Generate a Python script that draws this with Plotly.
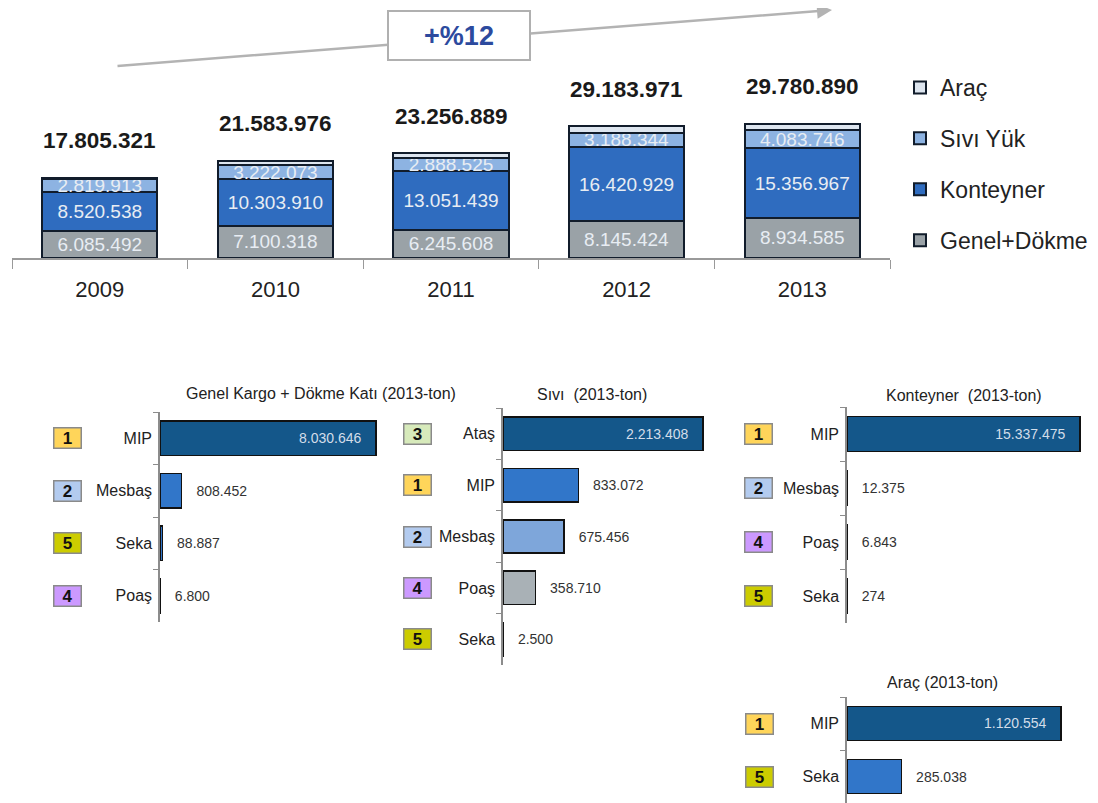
import plotly.graph_objects as go

# ---------------- data ----------------
years = ["2009", "2010", "2011", "2012", "2013"]
genel_dokme = [6085492, 7100318, 6245608, 8145424, 8934585]
konteyner = [8520538, 10303910, 13051439, 16420929, 15356967]
sivi_yuk = [2819913, 3222073, 2888525, 3188344, 4083746]
arac = [379378, 957675, 1071317, 1429274, 1405592]
totals = [17805321, 21583976, 23256889, 29183971, 29780890]
growth_label = "+%12"

gk_names = ["MIP", "Mesbaş", "Seka", "Poaş"]
gk_ranks = [1, 2, 5, 4]
gk_values = [8030646, 808452, 88887, 6800]

sv_names = ["Ataş", "MIP", "Mesbaş", "Poaş", "Seka"]
sv_ranks = [3, 1, 2, 4, 5]
sv_values = [2213408, 833072, 675456, 358710, 2500]

kn_names = ["MIP", "Mesbaş", "Poaş", "Seka"]
kn_ranks = [1, 2, 4, 5]
kn_values = [15337475, 12375, 6843, 274]

ar_names = ["MIP", "Seka"]
ar_ranks = [1, 5]
ar_values = [1120554, 285038]

# ---------------- style ----------------
OFF = 8                      # page body margin of the html page
W, H = 1098 - OFF, 803 - OFF
FONT = "Liberation Sans, Arial, sans-serif"
DARK = "#14578a"
MID = "#3176c9"
LIGHT = "#7ea6da"
GREY = "#a9b1b6"
RANK_COL = {1: "#ffd55a", 2: "#b3cbef", 3: "#d7eabb", 4: "#cc99ff", 5: "#cccc00"}


def fx(p):
    return (p - OFF) / W


def fy(p):
    return 1 - (p - OFF) / H


def fmt(v):
    return f"{v:,}".replace(",", ".")


fig = go.Figure()

# ---------------- top stacked chart ----------------
seg_specs = [
    ("Genel+Dökme", genel_dokme, "#9aa2a7", True, 4),
    ("Konteyner", konteyner, "#2f6cbf", True, 3),
    ("Sıvı Yük", sivi_yuk, "#8db3e2", True, 2),
    ("Araç", arac, "#dde5ef", False, 1),
]
for name, vals, col, lab, rank in seg_specs:
    fig.add_trace(go.Bar(
        x=years, y=vals, name=name, legendgroup=name, legendrank=rank,
        marker=dict(color=col, line=dict(color="#111c2b", width=2)),
        text=[fmt(v) for v in vals] if lab else None,
        textposition="inside", insidetextanchor="middle",
        constraintext="none", textangle=0,
        textfont=dict(family=FONT, size=19, color="#e8edf3"),
        xaxis="x", yaxis="y", hoverinfo="skip",
    ))

annotations = []
for i, t in enumerate(totals):
    annotations.append(dict(
        x=i, y=t, xref="x", yref="y", text=f"<b>{fmt(t)}</b>",
        showarrow=False, xanchor="center", yanchor="middle", yshift=37,
        font=dict(family=FONT, size=22.5, color="#1a1a1a"),
    ))

# growth arrow and box
annotations.append(dict(
    x=fx(832), y=fy(10), xref="paper", yref="paper",
    ax=116 - 832, ay=66 - 10, axref="pixel", ayref="pixel",
    showarrow=True, arrowhead=2, arrowsize=1.2, arrowwidth=2.5,
    arrowcolor="#b3b3b3", text="",
))
annotations.append(dict(
    x=fx(459), y=fy(35.5), xref="paper", yref="paper",
    xanchor="center", yanchor="middle",
    text=f"<b>{growth_label}</b>", showarrow=False,
    font=dict(family=FONT, size=27, color="#2c4a9e"),
    bgcolor="white", bordercolor="#b0b0b0", borderwidth=2,
    width=140, height=47, borderpad=0,
))

# ---------------- bottom panels ----------------
panels = [
    dict(ax=2, title="Genel Kargo + Dökme Katı (2013-ton)", names=gk_names, ranks=gk_ranks,
         values=gk_values, colors=[DARK, MID, MID, DARK],
         xd=(160, 420), yd=(412, 622), xmax=9.667e6, rankx=67, labx=321, laby=393),
    dict(ax=3, title="Sıvı  (2013-ton)", names=sv_names, ranks=sv_ranks,
         values=sv_values, colors=[DARK, MID, LIGHT, GREY, DARK],
         xd=(503, 720), yd=(408, 665), xmax=2.4016e6, rankx=417, labx=592, laby=394),
    dict(ax=4, title="Konteyner  (2013-ton)", names=kn_names, ranks=kn_ranks,
         values=kn_values, colors=[DARK, MID, MID, MID],
         xd=(847, 1090), yd=(407, 623), xmax=15.996e6, rankx=758, labx=964, laby=395),
    dict(ax=5, title="Araç (2013-ton)", names=ar_names, ranks=ar_ranks,
         values=ar_values, colors=[DARK, MID],
         xd=(847, 1090), yd=(697, 803), xmax=1.2724e6, rankx=759, labx=942, laby=682),
]

layout_axes = {}
NB = "\u00a0"
for p in panels:
    n = p["ax"]
    vals = p["values"]
    vmax = max(vals)
    pos = ["inside" if v == vmax else "outside" for v in vals]
    texts = [(fmt(v) + NB * 3) if v == vmax else (NB * 3 + fmt(v)) for v in vals]
    tcols = ["#d3dde9" if v == vmax else "#333333" for v in vals]
    fig.add_trace(go.Bar(
        x=vals, y=p["names"], orientation="h",
        marker=dict(color=p["colors"], line=dict(color="#111111", width=1.5)),
        text=texts, textposition=pos, insidetextanchor="end",
        constraintext="none", textangle=0, cliponaxis=False,
        textfont=dict(family=FONT, size=14, color=tcols),
        xaxis=f"x{n}", yaxis=f"y{n}", showlegend=False, hoverinfo="skip",
        width=0.65,
    ))
    layout_axes[f"xaxis{n}"] = dict(
        domain=[fx(p["xd"][0]), fx(p["xd"][1])], range=[0, p["xmax"]],
        visible=False, anchor=f"y{n}",
    )
    layout_axes[f"yaxis{n}"] = dict(
        domain=[max(0, fy(p["yd"][1])), fy(p["yd"][0])], anchor=f"x{n}",
        autorange="reversed", type="category", automargin=False,
        showline=True, linecolor="#8c8c8c", linewidth=1.5,
        ticks="outside", tickson="boundaries", ticklen=5, tickcolor="#8c8c8c",
        ticklabelstandoff=3,
        tickfont=dict(family=FONT, size=16, color="#222222"),
        showgrid=False, zeroline=False,
    )
    annotations.append(dict(
        x=fx(p["labx"]), y=fy(p["laby"]), xref="paper", yref="paper",
        xanchor="center", yanchor="middle",
        text=p["title"], showarrow=False,
        font=dict(family=FONT, size=16, color="#222222"),
    ))
    for name, r in zip(p["names"], p["ranks"]):
        annotations.append(dict(
            x=fx(p["rankx"]), xref="paper", y=name, yref=f"y{n}",
            xanchor="center", yanchor="middle",
            text=f"<b>{r}</b>", showarrow=False,
            font=dict(family=FONT, size=17, color="#111111"),
            bgcolor=RANK_COL[r], bordercolor="#8a8a8a", borderwidth=1.5,
            width=24, height=17, borderpad=1,
        ))

fig.update_layout(
    width=W, height=H,
    margin=dict(l=0, r=0, t=0, b=0, autoexpand=False),
    paper_bgcolor="white", plot_bgcolor="white",
    barmode="stack", bargap=0.345,
    font=dict(family=FONT, color="#222222"),
    xaxis=dict(
        domain=[fx(12), fx(890)], type="category",
        categoryorder="array", categoryarray=years,
        range=[-0.5, len(years) - 0.5], automargin=False,
        showline=True, linecolor="#9a9a9a", linewidth=1.5,
        ticks="outside", tickson="boundaries", ticklen=9, tickcolor="#9a9a9a",
        ticklabelstandoff=11, tickangle=0,
        tickfont=dict(family=FONT, size=22, color="#222222"),
        showgrid=False, zeroline=False, anchor="y",
    ),
    yaxis=dict(
        domain=[fy(258), fy(100)], range=[0, 35.0e6], visible=False, anchor="x",
    ),
    legend=dict(
        x=fx(900), y=fy(66), xanchor="left", yanchor="top",
        traceorder="grouped", tracegroupgap=18,
        font=dict(family=FONT, size=23, color="#222222"),
        bgcolor="rgba(0,0,0,0)", itemwidth=30,
    ),
    annotations=annotations,
    **layout_axes,
)

fig.write_html("out.html")
